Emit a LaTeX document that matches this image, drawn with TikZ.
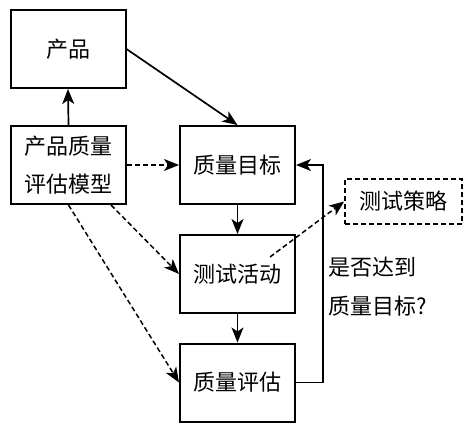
\documentclass[tikz,border=0pt]{standalone}
\usepackage{fontspec}
\setmainfont{Noto Sans CJK SC}
\usetikzlibrary{arrows.meta,calc}
\begin{document}
\begin{tikzpicture}[x=1pt,y=-1pt,
  box/.style={draw,line width=2pt,minimum width=115pt,minimum height=78pt,inner sep=0pt,font=\fontsize{22}{38}\selectfont,align=center},
  dbox/.style={draw,line width=1.6pt,dash pattern=on 5pt off 3pt,minimum width=117pt,minimum height=45pt,inner sep=0pt,font=\fontsize{22}{38}\selectfont},
  arr/.style={line width=1.7pt,-{Stealth[length=15pt,width=12pt,inset=4pt]}},
  darr/.style={line width=1.5pt,dash pattern=on 5pt off 3pt,-{Stealth[length=15pt,width=12pt,inset=4pt]}},
  lbl/.style={font=\fontsize{22}{39}\selectfont,align=left,inner sep=0pt}]
\useasboundingbox (0,0) rectangle (475,429);
\node[box] (p) at (68,49) {产品};
\node[box] (m) at (68.5,165) {产品质量\\评估模型};
\node[box] (g) at (237.5,165) {质量目标};
\node[box] (t) at (237.5,274) {测试活动};
\node[box] (e) at (237.5,382.5) {质量评估};
\node[dbox] (s) at (403.5,201.5) {测试策略};
\node[lbl,anchor=west] (q) at (328,287) {是否达到\\质量目标?};
\coordinate (ts) at (270,257);
\draw[arr] (m.north) -- (p.south);
\draw[arr] (p.east) -- (g.north);
\draw[darr] (m.east) -- (g.west);
\draw[arr] (g.south) -- (t.north);
\draw[arr] (t.south) -- (e.north);
\draw[arr] (e.east) -- ++(27,0) |- (g.east);
\draw[darr] (ts) -- (s.west);
\draw[darr] (m.south) -- (e.west);
\draw[darr] ($(m.south east)+(-16,0)$) -- (t.west);
\end{tikzpicture}
\end{document}
